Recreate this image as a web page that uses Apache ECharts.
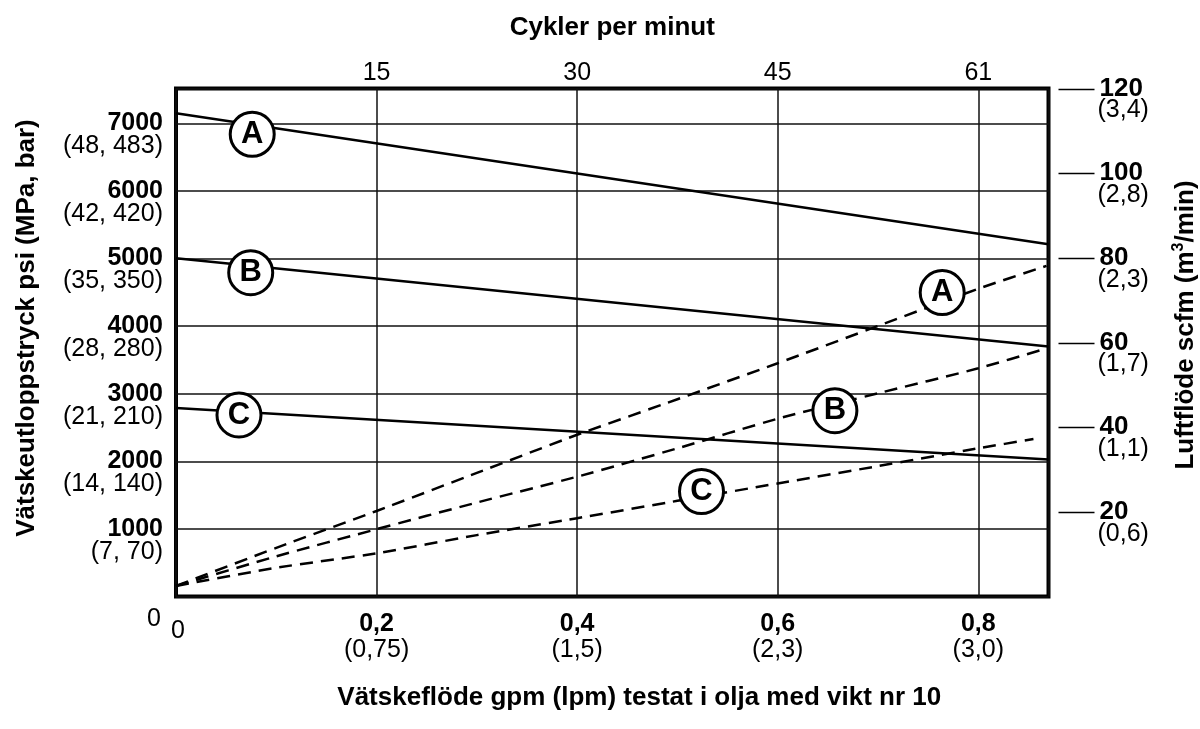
<!DOCTYPE html>
<html>
<head>
<meta charset="utf-8">
<title>Vätskeutloppstryck och luftflöde</title>
<script src="https://cdn.jsdelivr.net/npm/echarts@6/dist/echarts.min.js"></script>
<style>
  html, body { margin: 0; padding: 0; background: #fff; }
  #chart { width: 1200px; height: 729px; }
</style>
</head>
<body>
<div id="chart"></div>
<script>
// Bottom axis: fluid flow in gpm with lpm in parentheses
const gpmTicks = [0, 0.2, 0.4, 0.6, 0.8];
const gpmLabels = ['0', '0,2', '0,4', '0,6', '0,8'];
const lpmLabels = ['', '(0,75)', '(1,5)', '(2,3)', '(3,0)'];
// Top axis: pump cycles per minute at the same gridlines
const cycleLabels = ['', '15', '30', '45', '61'];
// Left axis: fluid outlet pressure psi (MPa, bar)
const psiTicks = [0, 1000, 2000, 3000, 4000, 5000, 6000, 7000];
const psiLabels = ['0', '1000', '2000', '3000', '4000', '5000', '6000', '7000'];
const mpaBarLabels = ['', '(7, 70)', '(14, 140)', '(21, 210)', '(28, 280)', '(35, 350)', '(42, 420)', '(48, 483)'];
// Right axis: air consumption scfm (m3/min)
const scfmTicks = [20, 40, 60, 80, 100, 120];
const scfmLabels = ['20', '40', '60', '80', '100', '120'];
const m3minLabels = ['(0,6)', '(1,1)', '(1,7)', '(2,3)', '(2,8)', '(3,4)'];

// Fluid pressure curves (solid), psi vs gpm
const pressureFlow = [0, 0.87];
const pressureA = [7150, 5210];
const pressureB = [5005, 3700];
const pressureC = [2790, 2025];

// Air consumption curves (dashed), scfm vs gpm
const airFlowAB = [0, 0.1, 0.2, 0.3, 0.4, 0.5, 0.6, 0.7, 0.8, 0.868];
const airA = [2.5, 11.5, 20.2, 29.2, 38.2, 46.6, 55.1, 63.9, 72.7, 78.1];
const airB = [2.5, 9.5, 15.9, 22.2, 28.3, 35.0, 42.0, 48.0, 53.9, 58.6];
const airFlowC = [0, 0.1, 0.2, 0.3, 0.4, 0.5, 0.6, 0.7, 0.8, 0.855];
const airC = [2.5, 6.8, 10.2, 14.5, 18.5, 22.6, 26.7, 30.8, 35.0, 37.2];

// Curve tags: [gpm, value, letter]
const pressureTags = [[0.076, 6837, 'A'], [0.0745, 4790, 'B'], [0.0628, 2685, 'C']];
const airTags = [[0.764, 71.8, 'A'], [0.657, 43.9, 'B'], [0.524, 24.8, 'C']];

const FONT = '"Liberation Sans", Arial, Helvetica, sans-serif';

function indexOfTick(ticks, v) {
  for (let i = 0; i < ticks.length; i++) {
    if (Math.abs(ticks[i] - v) < 1e-6) return i;
  }
  return -1;
}

function pairs(xs, ys) {
  return xs.map((x, i) => [x, ys[i]]);
}

const solidStyle = { color: '#000', width: 2.5, type: 'solid' };
const dashedStyle = { color: '#000', width: 2.5, type: [13, 8] };

function curve(xs, ys, yAxisIndex, style) {
  return {
    type: 'line',
    xAxisIndex: 0,
    yAxisIndex: yAxisIndex,
    data: pairs(xs, ys),
    showSymbol: false,
    symbol: 'none',
    smooth: 0.2,
    lineStyle: style,
    z: 3,
    silent: true
  };
}

function tags(list, yAxisIndex) {
  return {
    type: 'scatter',
    xAxisIndex: 0,
    yAxisIndex: yAxisIndex,
    data: list.map(t => ({ value: [t[0], t[1]], name: t[2] })),
    symbol: 'circle',
    symbolSize: 44,
    itemStyle: { color: '#fff', borderColor: '#000', borderWidth: 3, opacity: 1 },
    label: {
      show: true,
      position: 'inside',
      formatter: p => p.name,
      color: '#000',
      textBorderWidth: 0,
      fontFamily: FONT,
      fontWeight: 'bold',
      fontSize: 31
    },
    z: 10,
    silent: true
  };
}

const chart = echarts.init(document.getElementById('chart'), null, { renderer: 'canvas' });

chart.setOption({
  animation: false,
  backgroundColor: '#fff',
  textStyle: { fontFamily: FONT, color: '#000' },
  grid: {
    left: 176,
    right: 151.5,
    top: 88.5,
    bottom: 132.5,
    outerBoundsMode: 'none',
    containLabel: false,
    show: true,
    borderColor: '#000',
    borderWidth: 4,
    backgroundColor: 'transparent'
  },
  xAxis: [
    {
      type: 'value',
      position: 'bottom',
      min: 0,
      max: 0.87,
      interval: 0.2,
      name: 'Vätskeflöde gpm (lpm) testat i olja med vikt nr 10',
      nameLocation: 'middle',
      nameGap: 88,
      nameTextStyle: {
        fontFamily: FONT, fontWeight: 'bold', fontSize: 26, color: '#000',
        padding: [0, 0, 0, 54]
      },
      axisLine: { show: false },
      axisTick: { show: false },
      splitLine: { show: true, lineStyle: { color: '#111', width: 1.5 } },
      axisLabel: {
        margin: 15,
        showMinLabel: true,
        formatter: v => {
          const i = indexOfTick(gpmTicks, v);
          if (i < 0) return '';
          if (i === 0) return '{z|' + gpmLabels[0] + '}';
          return '{b|' + gpmLabels[i] + '}\n{p|' + lpmLabels[i] + '}';
        },
        rich: {
          b: { fontFamily: FONT, fontWeight: 'bold', fontSize: 25, lineHeight: 26, color: '#000' },
          p: { fontFamily: FONT, fontSize: 25, lineHeight: 26, color: '#000' },
          z: { fontFamily: FONT, fontSize: 25, lineHeight: 26, color: '#000', padding: [14, 0, 0, 4] }
        }
      }
    },
    {
      type: 'value',
      position: 'top',
      min: 0,
      max: 0.87,
      interval: 0.2,
      name: 'Cykler per minut',
      nameLocation: 'middle',
      nameGap: 48,
      nameTextStyle: { fontFamily: FONT, fontWeight: 'bold', fontSize: 26, color: '#000' },
      axisLine: { show: false },
      axisTick: { show: false },
      splitLine: { show: false },
      axisLabel: {
        margin: 3,
        fontFamily: FONT,
        fontSize: 25,
        lineHeight: 25,
        color: '#000',
        formatter: v => {
          const i = indexOfTick(gpmTicks, v);
          return i < 0 ? '' : cycleLabels[i];
        }
      }
    }
  ],
  yAxis: [
    {
      type: 'value',
      position: 'left',
      min: 0,
      max: 7515,
      interval: 1000,
      name: 'Vätskeutloppstryck psi (MPa, bar)',
      nameLocation: 'middle',
      nameGap: 136,
      nameRotate: 90,
      nameTextStyle: {
        fontFamily: FONT, fontWeight: 'bold', fontSize: 26, color: '#000',
        padding: [0, 0, 0, 29]
      },
      axisLine: { show: false },
      axisTick: { show: false },
      splitLine: { show: true, lineStyle: { color: '#111', width: 1.5 } },
      axisLabel: {
        margin: 13,
        showMinLabel: true,
        formatter: v => {
          const i = indexOfTick(psiTicks, v);
          if (i < 0) return '';
          if (i === 0) return '{s| }\n{s| }\n{z|' + psiLabels[0] + '}';
          return '{s| }\n{b|' + psiLabels[i] + '}\n{p|' + mpaBarLabels[i] + '}';
        },
        rich: {
          s: { fontSize: 10, lineHeight: 23 },
          b: { fontFamily: FONT, fontWeight: 'bold', fontSize: 25, lineHeight: 23, color: '#000' },
          p: { fontFamily: FONT, fontSize: 25, lineHeight: 23, color: '#000' },
          z: { fontFamily: FONT, fontSize: 25, lineHeight: 23, color: '#000', padding: [0, 2, 0, 0] }
        }
      }
    },
    {
      type: 'value',
      position: 'right',
      min: 0,
      max: 120,
      interval: 20,
      name: '{t|Luftflöde scfm (m}{sup|3}{t|/min)}',
      nameLocation: 'middle',
      nameGap: 122,
      nameRotate: 90,
      nameTextStyle: {
        padding: [0, 0, 0, 35],
        rich: {
          t: { fontFamily: FONT, fontWeight: 'bold', fontSize: 26, lineHeight: 30, color: '#000' },
          sup: { fontFamily: FONT, fontWeight: 'bold', fontSize: 16, lineHeight: 16, verticalAlign: 'top', color: '#000' }
        }
      },
      axisLine: { show: false },
      axisTick: { show: false },
      splitLine: { show: false },
      axisLabel: {
        margin: 49,
        formatter: v => {
          const i = indexOfTick(scfmTicks, v);
          if (i < 0) return '';
          return '{s| }\n{b|' + scfmLabels[i] + '}\n{p|' + m3minLabels[i] + '}';
        },
        rich: {
          s: { fontSize: 10, lineHeight: 22 },
          b: { fontFamily: FONT, fontWeight: 'bold', fontSize: 26, lineHeight: 22, color: '#000', padding: [0, 0, 0, 2] },
          p: { fontFamily: FONT, fontSize: 25, lineHeight: 22, color: '#000' }
        }
      }
    }
  ],
  series: [
    curve(pressureFlow, pressureA, 0, solidStyle),
    curve(pressureFlow, pressureB, 0, solidStyle),
    curve(pressureFlow, pressureC, 0, solidStyle),
    curve(airFlowAB, airA, 1, dashedStyle),
    curve(airFlowAB, airB, 1, dashedStyle),
    curve(airFlowC, airC, 1, dashedStyle),
    tags(pressureTags, 0),
    tags(airTags, 1)
  ]
});

// Right-hand scfm tick marks sit clear of the frame; place them through the axis scale
const frameRight = chart.convertToPixel({ xAxisIndex: 0 }, 0.87);
chart.setOption({
  graphic: scfmTicks.map(v => {
    const y = Math.round(chart.convertToPixel({ yAxisIndex: 1 }, v)) + 0.5;
    return {
      type: 'line',
      silent: true,
      shape: { x1: frameRight + 10, y1: y, x2: frameRight + 46, y2: y },
      style: { stroke: '#000', lineWidth: 1.5 }
    };
  })
});
</script>
</body>
</html>
